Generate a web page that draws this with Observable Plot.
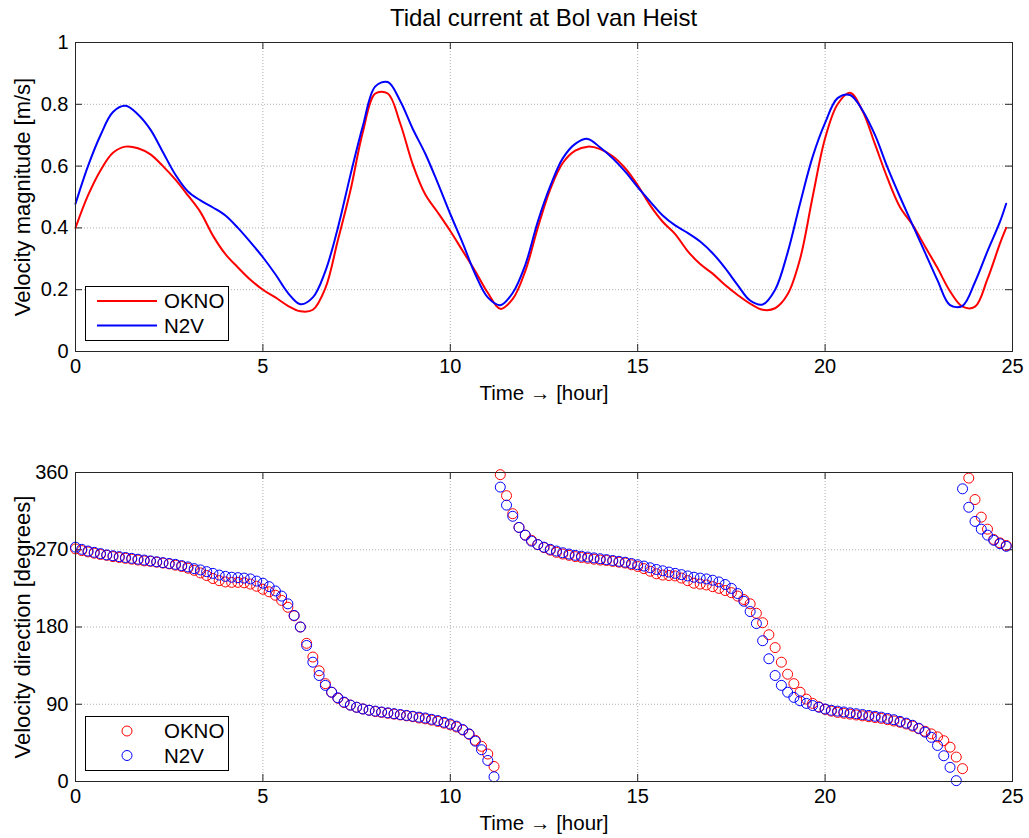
<!DOCTYPE html>
<html>
<head>
<meta charset="utf-8">
<script src="https://cdn.jsdelivr.net/npm/d3@7"></script>
<script src="https://cdn.jsdelivr.net/npm/@observablehq/plot@0.6"></script>
<style>
  body { margin: 0; background: #fff; font-family: "Liberation Sans", Arial, Helvetica, sans-serif; }
  #wrap { position: relative; width: 1029px; height: 838px; overflow: hidden; }
  #title { position: absolute; left: 75px; width: 937px; top: 5px; line-height: 26px; text-align: center; font-size: 24px; color: #000; }
  #p1 { position: absolute; left: 0; top: 0; }
  #p2 { position: absolute; left: 0; top: 430px; }
  .legend { position: absolute; left: 85px; width: 144px; height: 55px; box-sizing: border-box; border: 1px solid #000; background: #fff; }
  .legend svg { display: block; }
</style>
</head>
<body>
<div id="wrap">
  <div id="p1"></div>
  <div id="p2"></div>
  <div id="title">Tidal current at Bol van Heist</div>
  <div class="legend" id="leg1" style="top:286px"></div>
  <div class="legend" id="leg2" style="top:716px"></div>
</div>
<script>
// ---------- data ----------
const seriesNames = ["OKNO", "N2V"];
const seriesColors = ["#ff0000", "#0000ff"];

const xTicks = [0, 5, 10, 15, 20, 25];
const velTicks = [0, 0.2, 0.4, 0.6, 0.8, 1];
const dirTicks = [0, 90, 180, 270, 360];

// time (hours) of velocity samples: every 20 min, last sample at 24.83 h
const velHours = [...d3.range(75).map(i => i / 3), 24.83];
const oknoVel = [0.40,0.505,0.586,0.643,0.663,0.658,0.638,0.600,0.556,0.505,
  0.451,0.375,0.315,0.272,0.232,0.200,0.175,0.148,0.130,0.135,
  0.205,0.36,0.52,0.71,0.835,0.835,0.737,0.605,0.508,0.45,
  0.39,0.325,0.26,0.19,0.138,0.17,0.26,0.40,0.525,0.61,
  0.65,0.663,0.655,0.632,0.593,0.538,0.473,0.42,0.38,0.325,
  0.283,0.252,0.215,0.183,0.155,0.135,0.14,0.185,0.30,0.50,
  0.69,0.80,0.837,0.778,0.67,0.56,0.467,0.41,0.34,0.27,
  0.195,0.145,0.145,0.235,0.35,0.40];
const n2vVel = [0.478,0.60,0.70,0.775,0.795,0.767,0.718,0.645,0.572,0.518,
  0.489,0.466,0.44,0.40,0.354,0.305,0.25,0.19,0.153,0.175,
  0.26,0.40,0.57,0.73,0.858,0.872,0.81,0.72,0.64,0.545,
  0.445,0.35,0.25,0.175,0.15,0.19,0.28,0.42,0.535,0.625,
  0.672,0.688,0.66,0.625,0.582,0.532,0.485,0.44,0.408,0.384,
  0.356,0.318,0.27,0.215,0.165,0.152,0.20,0.32,0.48,0.63,
  0.74,0.82,0.83,0.78,0.70,0.595,0.50,0.41,0.32,0.23,
  0.15,0.148,0.225,0.325,0.42,0.478];

// time (hours) of direction samples: every 10 min
const dirHours = d3.range(150).map(i => i / 6);
const oknoDir = [271,269,267.5,266,264.5,263.5,262,261,260,259,
  258,257,256.5,255.5,254.5,253.5,252,250.5,248.5,246,
  243,240,236.5,234,232.5,232,232,231.5,230,227.5,
  224,221,217,211,203,193,180,161,145,129,
  114,104,97,92,89,86.5,84.5,83,81.5,80.5,
  79.5,78.5,77.5,76.5,75.5,74,73,71.5,70,68,
  66,63.5,60,55,48,41,32,17.5,357.5,333,
  312,296,287,281,276,272.5,269.5,267,265,263.5,
  262,261,260,259,258,257.5,256.5,255.5,254.5,252.5,
  250.5,248,245,242,240.5,240,239.5,237,234,231,
  230,229,227,225,222.5,220,216,212,207,196,
  185,171,156,139,125,114,104,96,91,87,
  84,82,80.5,79.5,78.5,77.5,76.5,75.5,74.5,73.5,
  72,70.5,69,67,64.5,61.5,58.5,55.5,52,47.5,
  40,28.5,15,353.5,328.5,308,294,282,278,275];
const n2vDir = [273,270.5,268.5,267,265.5,264,263,262,261,260,
  259,258,257,256,255,254,253,251.5,250,248,
  246.5,244.5,242.5,240.5,239,238,237.5,237,236,233.5,
  231,227,222,216,207,193.5,180,158.5,139,123.5,
  112,104,97.5,92.5,89,86.5,84.5,83,82,81,
  80,79,78,77,76,75,74,72.5,71,69,
  67,64.5,60.5,55.5,47,37,24.5,5.5,343,322,
  309,296,287,280,276,273,270.5,268.5,266.5,265,
  263.5,262.5,261.5,260.5,259.5,258.5,257.5,256.5,255.5,254,
  252.5,251,249,247,245.5,244,242.5,241,239.5,238,
  237,236,234.5,232.5,229.5,225,219,210,198,184,
  164,143,123.5,112,104,98,94,91,88.5,86.5,
  84.5,83,82,81,80,79,78,77,76,75,
  73.5,72,70,68,65.5,62,57.5,51.5,42,30,
  16.5,1,341,319.5,303,294,287,281,277,274];

// ---------- build ----------
const FONT = '"Liberation Sans", Arial, Helvetica, sans-serif';
const velData = velHours.map((t, i) => ({t, okno: oknoVel[i], n2v: n2vVel[i]}));
const dirData = dirHours.map((t, i) => ({t, okno: oknoDir[i], n2v: n2vDir[i]}));

const AX = "#262626";
const W = 1029, ML = 75, MR = 17;
const frameW = W - ML - MR;
const TICK = 7;

function decorations(yTicks, plotH, ylabel) {
  return [
    Plot.gridX(xTicks, {stroke: "#b0b0b0", strokeOpacity: 1, strokeDasharray: "1,2", strokeWidth: 1}),
    Plot.gridY(yTicks, {stroke: "#b0b0b0", strokeOpacity: 1, strokeDasharray: "1,2", strokeWidth: 1}),
    Plot.tickX(xTicks, {x: d => d, insetTop: plotH - TICK, stroke: AX}),
    Plot.tickX(xTicks, {x: d => d, insetBottom: plotH - TICK, stroke: AX}),
    Plot.tickY(yTicks, {y: d => d, insetRight: frameW - TICK, stroke: AX}),
    Plot.tickY(yTicks, {y: d => d, insetLeft: frameW - TICK, stroke: AX}),
    Plot.axisX({ticks: xTicks, tickSize: 0, tickPadding: 7, tickFormat: d => String(d), label: null, fontSize: 20, fill: "#000"}),
    Plot.axisY({ticks: yTicks, tickSize: 0, tickPadding: 7, tickFormat: d => String(d), label: null, fontSize: 20, fill: "#000"}),
    Plot.text(["Time \u2192 [hour]"], {frameAnchor: "bottom", dy: 42, text: d => d, fontSize: 20.5, fill: "#000", lineAnchor: "middle", textAnchor: "middle"}),
    Plot.text([ylabel], {frameAnchor: "left", dx: -53, rotate: -90, text: d => d, fontSize: 22, fill: "#000", lineAnchor: "middle", textAnchor: "middle"})
  ];
}

const plotH = 309;
const p1 = Plot.plot({
  width: W, height: 410,
  marginLeft: ML, marginRight: MR, marginTop: 42, marginBottom: 59,
  style: {fontFamily: FONT, fontSize: "20px", color: "#000", background: "transparent", overflow: "visible"},
  x: {domain: [0, 25]},
  y: {domain: [0, 1]},
  marks: [
    ...decorations(velTicks, plotH, "Velocity magnitude [m/s]"),
    Plot.line(velData, {x: "t", y: "okno", stroke: seriesColors[0], strokeWidth: 2, curve: "catmull-rom"}),
    Plot.line(velData, {x: "t", y: "n2v", stroke: seriesColors[1], strokeWidth: 2, curve: "catmull-rom"}),
    Plot.frame({stroke: AX, strokeWidth: 1})
  ]
});
document.getElementById("p1").appendChild(p1);

const p2 = Plot.plot({
  width: W, height: 408,
  marginLeft: ML, marginRight: MR, marginTop: 42, marginBottom: 57,
  style: {fontFamily: FONT, fontSize: "20px", color: "#000", background: "transparent", overflow: "visible"},
  x: {domain: [0, 25]},
  y: {domain: [0, 360]},
  marks: [
    ...decorations(dirTicks, plotH, "Velocity direction [degrees]"),
    Plot.dot(dirData, {x: "t", y: "okno", r: 5, stroke: seriesColors[0], fill: "none", strokeWidth: 1}),
    Plot.dot(dirData, {x: "t", y: "n2v", r: 5, stroke: seriesColors[1], fill: "none", strokeWidth: 1}),
    Plot.frame({stroke: AX, strokeWidth: 1})
  ]
});
document.getElementById("p2").appendChild(p2);

// ---------- legends ----------
function legend(id, kind) {
  const svg = d3.select("#" + id).append("svg").attr("width", 142).attr("height", 53)
    .style("font-family", FONT).style("font-size", "20.5px");
  seriesNames.forEach((name, i) => {
    const cy = 14 + i * 24.5;
    if (kind === "line") {
      svg.append("line").attr("x1", 11).attr("x2", 71).attr("y1", cy).attr("y2", cy)
        .attr("stroke", seriesColors[i]).attr("stroke-width", 2);
    } else {
      svg.append("circle").attr("cx", 41).attr("cy", cy).attr("r", 5)
        .attr("fill", "none").attr("stroke", seriesColors[i]).attr("stroke-width", 1);
    }
    svg.append("text").attr("x", 78).attr("y", cy).attr("dy", "0.36em").attr("fill", "#000").text(name);
  });
}
legend("leg1", "line");
legend("leg2", "dot");
</script>
</body>
</html>
